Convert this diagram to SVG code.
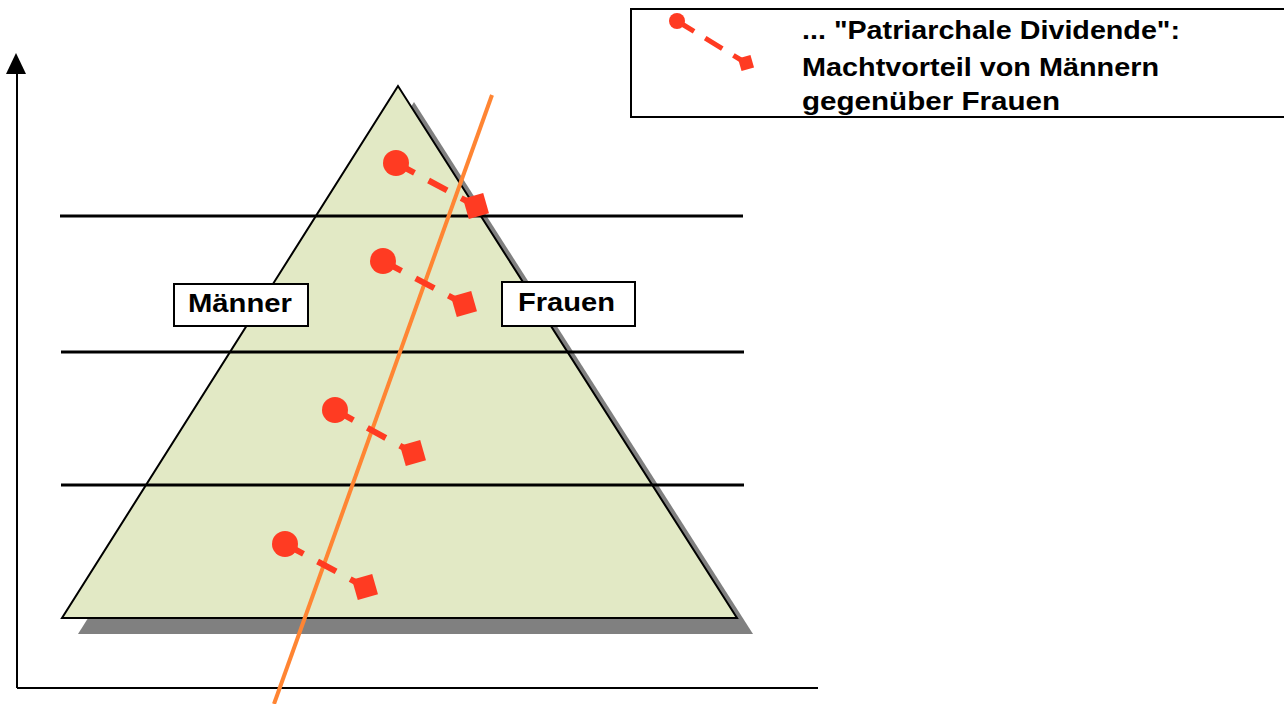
<svg xmlns="http://www.w3.org/2000/svg" width="1284" height="704" viewBox="0 0 1284 704">
<style>
.lbl{font-family:"Liberation Sans",Arial,sans-serif;font-weight:bold;font-size:26px;fill:#000}
.box{fill:#fff;stroke:#000;stroke-width:2}
.band{stroke:#000;stroke-width:3}
.axis{stroke:#000;stroke-width:2;fill:none}
.dash{stroke:#FF3B22;stroke-width:6;stroke-dasharray:21 16;fill:none}
.dot{fill:#FF3B22}
</style>
<defs>
<g id="sq"><rect x="-10.5" y="-10.5" width="21" height="21" transform="rotate(-16)"/></g>
</defs>
<rect width="1284" height="704" fill="#fff"/>
<g id="axes">
<line class="axis" x1="17" y1="688" x2="17" y2="70"/>
<polygon points="16,53 6,74 26,74" fill="#000"/>
<line class="axis" x1="17" y1="688" x2="818" y2="688"/>
</g>
<g id="pyramid">
<polygon points="414,102 78,634 753,634" fill="#808080"/>
<polygon points="398,86 62,618 737,618" fill="#E2E9C5" stroke="#000" stroke-width="2"/>
</g>
<g id="bands">
<line class="band" x1="60" y1="216" x2="743" y2="216"/>
<line class="band" x1="61" y1="352" x2="744" y2="352"/>
<line class="band" x1="61" y1="485" x2="744" y2="485"/>
</g>
<g id="divider">
<line x1="492" y1="95" x2="274" y2="704" stroke="#FF8533" stroke-width="4"/>
</g>
<g id="connectors">
<g id="div1">
<line class="dash" x1="396" y1="163" x2="476" y2="206"/>
<circle class="dot" cx="396" cy="163" r="13"/>
<use href="#sq" x="476" y="206" fill="#FF3B22"/>
</g>
<g id="div2">
<line class="dash" x1="383" y1="261" x2="464" y2="304"/>
<circle class="dot" cx="383" cy="261" r="13"/>
<use href="#sq" x="464" y="304" fill="#FF3B22"/>
</g>
<g id="div3">
<line class="dash" x1="335" y1="410" x2="413" y2="453"/>
<circle class="dot" cx="335" cy="410" r="13"/>
<use href="#sq" x="413" y="453" fill="#FF3B22"/>
</g>
<g id="div4">
<line class="dash" x1="285" y1="544" x2="365" y2="587"/>
<circle class="dot" cx="285" cy="544" r="13"/>
<use href="#sq" x="365" y="587" fill="#FF3B22"/>
</g>
</g>
<g id="maenner">
<rect class="box" x="174" y="284" width="134" height="42"/>
<text class="lbl" x="188" y="312" textLength="104" lengthAdjust="spacingAndGlyphs">Männer</text>
</g>
<g id="frauen">
<rect class="box" x="502" y="282" width="133" height="44"/>
<text class="lbl" x="518" y="311" textLength="97" lengthAdjust="spacingAndGlyphs">Frauen</text>
</g>
<g id="legend">
<rect x="631" y="9" width="660" height="108" fill="#fff" stroke="#000" stroke-width="2"/>
<line x1="677" y1="21" x2="746" y2="63" stroke="#FF3B22" stroke-width="5" stroke-dasharray="20 13"/>
<circle cx="677" cy="21" r="8" fill="#FF3B22"/>
<rect x="-6.5" y="-6.5" width="13" height="13" transform="translate(746,63) rotate(-16)" fill="#FF3B22"/>
<text class="lbl" x="802" y="39" textLength="378" lengthAdjust="spacingAndGlyphs">... "Patriarchale Dividende":</text>
<text class="lbl" x="802" y="76" textLength="357" lengthAdjust="spacingAndGlyphs">Machtvorteil von Männern</text>
<text class="lbl" x="802" y="110" textLength="258" lengthAdjust="spacingAndGlyphs">gegenüber Frauen</text>
</g>
</svg>
